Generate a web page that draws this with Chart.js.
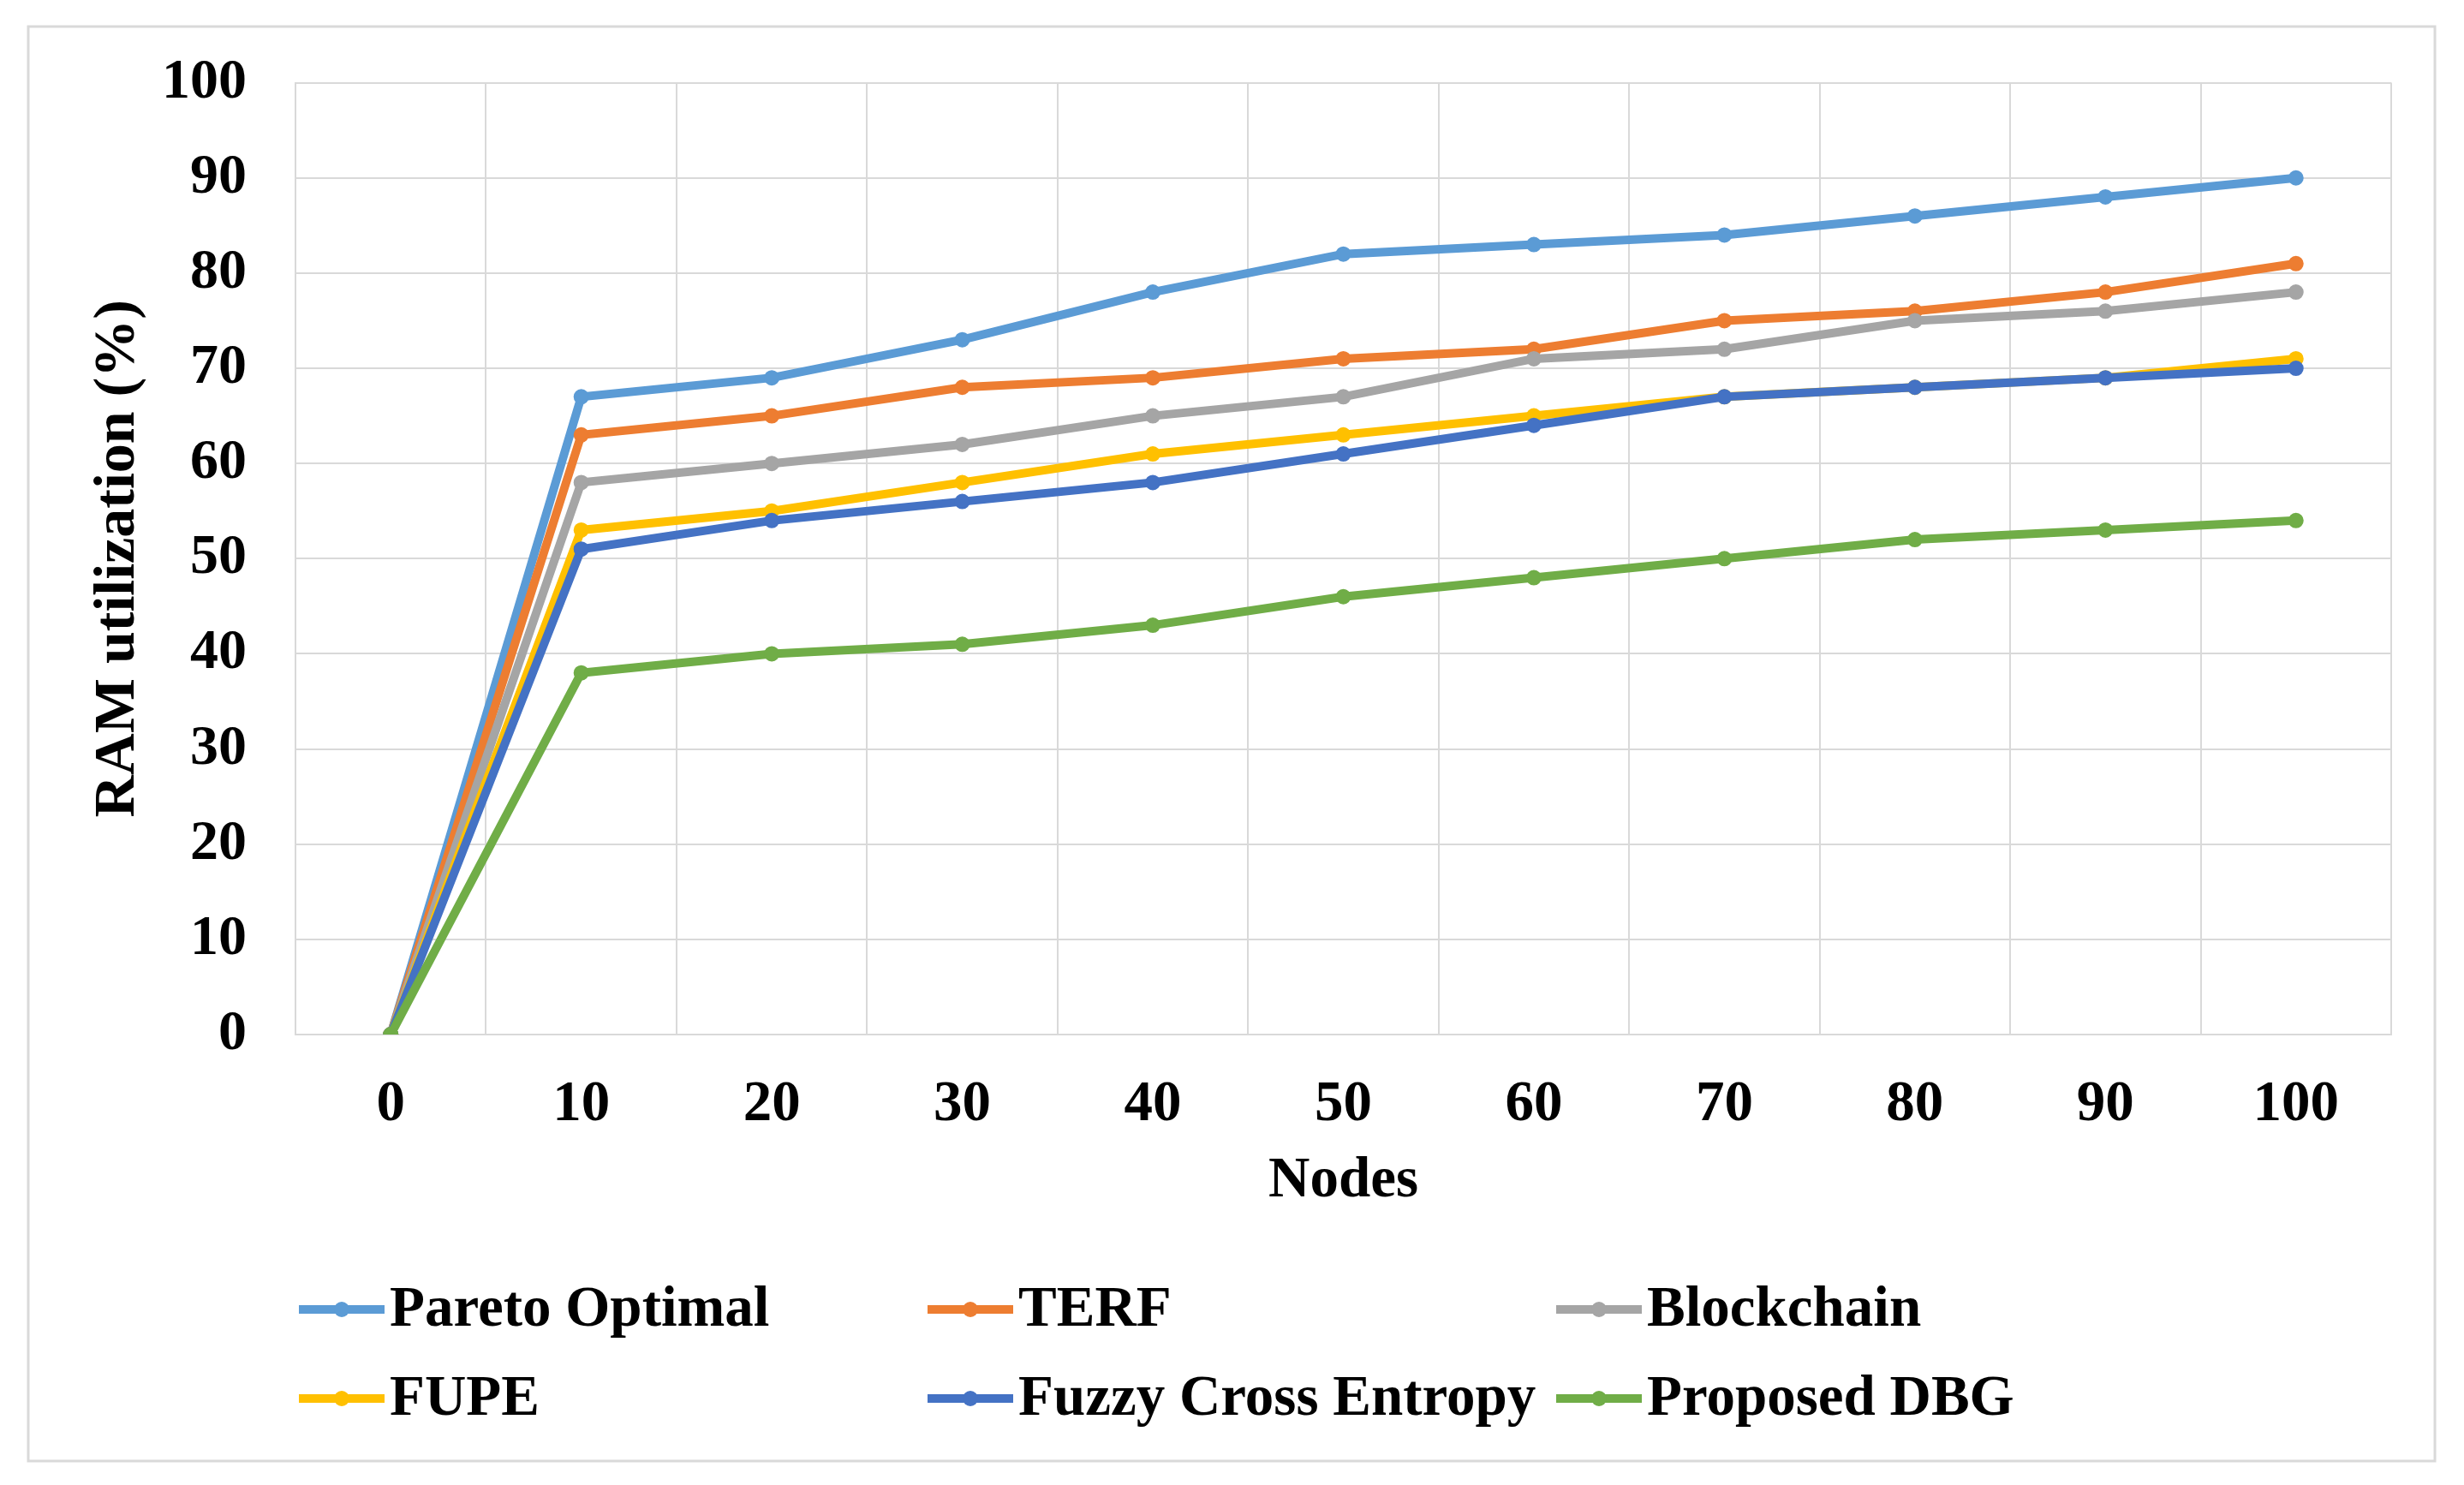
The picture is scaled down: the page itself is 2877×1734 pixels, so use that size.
<!DOCTYPE html>
<html>
<head>
<meta charset="utf-8">
<script src="https://cdn.jsdelivr.net/npm/chart.js@4/dist/chart.umd.min.js"></script>
<style>
html,body{margin:0;padding:0;background:#fff;}
canvas{display:block;}
</style>
</head>
<body>
<canvas id="c" width="2877" height="1734" style="width:2877px;height:1734px"></canvas>
<script>
// ---- data ----
const nodes = ['0', '10', '20', '30', '40', '50', '60', '70', '80', '90', '100'];
const paretoOptimal = [0, 67, 69, 73, 78, 82, 83, 84, 86, 88, 90];
const terf          = [0, 63, 65, 68, 69, 71, 72, 75, 76, 78, 81];
const blockchain    = [0, 58, 60, 62, 65, 67, 71, 72, 75, 76, 78];
const fupe          = [0, 53, 55, 58, 61, 63, 65, 67, 68, 69, 71];
const fuzzyCrossEntropy = [0, 51, 54, 56, 58, 61, 64, 67, 68, 69, 70];
const proposedDBG   = [0, 38, 40, 41, 43, 46, 48, 50, 52, 53, 54];
const seriesNames = ['Pareto Optimal', 'TERF', 'Blockchain', 'FUPE', 'Fuzzy Cross Entropy', 'Proposed DBG'];
const yMin = 0, yMax = 100, yStep = 10;
const xTitle = 'Nodes';
const yTitle = 'RAM utilization (%)';

// ---- styles ----
const seriesColors = ['#5B9BD5', '#ED7D31', '#A5A5A5', '#FFC000', '#4472C4', '#70AD47'];
const seriesValues = [paretoOptimal, terf, blockchain, fupe, fuzzyCrossEntropy, proposedDBG];
const FONT = '"Liberation Serif", "Times New Roman", serif';
const GRID = '#D9D9D9';

const bgPlugin = {
  id: 'bgPlugin',
  beforeDraw(chart) {
    const ctx = chart.ctx;
    ctx.save();
    ctx.fillStyle = '#ffffff';
    ctx.fillRect(0, 0, chart.width, chart.height);
    ctx.strokeStyle = '#D9D9D9';
    ctx.lineWidth = 3;
    ctx.strokeRect(33, 31, 2810, 1675);
    ctx.restore();
  }
};

const gridLegend = {
  id: 'gridLegend',
  afterDraw(chart) {
    const ctx = chart.ctx;
    const cols = [349, 1083, 1817];
    const rows = [1529, 1633];
    chart.data.datasets.forEach((ds, i) => {
      const x = cols[i % 3], y = rows[Math.floor(i / 3)];
      ctx.save();
      ctx.strokeStyle = ds.borderColor;
      ctx.lineWidth = 10;
      ctx.lineCap = 'butt';
      ctx.beginPath(); ctx.moveTo(x, y); ctx.lineTo(x + 100, y); ctx.stroke();
      ctx.fillStyle = ds.borderColor;
      ctx.beginPath(); ctx.arc(x + 50, y, 9, 0, Math.PI * 2); ctx.fill();
      ctx.fillStyle = '#000';
      ctx.font = 'bold 67px ' + FONT;
      ctx.textBaseline = 'middle';
      ctx.textAlign = 'left';
      ctx.fillText(ds.label, x + 106, y + 2);
      ctx.restore();
    });
  }
};

const datasets = seriesNames.map((name, i) => ({
  label: name,
  data: seriesValues[i],
  order: seriesNames.length - i,
  borderColor: seriesColors[i],
  backgroundColor: seriesColors[i],
  pointBackgroundColor: seriesColors[i],
  pointBorderColor: seriesColors[i],
  borderWidth: 10,
  pointRadius: 8,
  pointBorderWidth: 2,
  tension: 0,
  fill: false
}));

new Chart(document.getElementById('c'), {
  type: 'line',
  data: { labels: nodes, datasets: datasets },
  options: {
    responsive: false,
    devicePixelRatio: 1,
    animation: false,
    layout: { padding: { left: 40, top: 92, right: 85, bottom: 314 } },
    plugins: { legend: { display: false }, tooltip: { enabled: false } },
    scales: {
      x: {
        type: 'category',
        offset: true,
        grid: { offset: true, color: GRID, lineWidth: 2, drawTicks: false },
        border: { color: GRID, width: 2 },
        ticks: { color: '#000', padding: 42, font: { family: FONT, size: 67, weight: 'bold' }, maxRotation: 0 },
        title: { display: true, text: xTitle, color: '#000', padding: { top: 0, bottom: 0 }, font: { family: FONT, size: 67, weight: 'bold' } },
        afterFit(scale) { scale.height = 212; }
      },
      y: {
        min: yMin, max: yMax,
        grid: { color: GRID, lineWidth: 2, drawTicks: false },
        border: { color: GRID, width: 2 },
        ticks: { stepSize: yStep, color: '#000', padding: 57, font: { family: FONT, size: 66, weight: 'bold' } },
        title: { display: true, text: yTitle, color: '#000', padding: { top: 58, bottom: 0 }, font: { family: FONT, size: 68, weight: 'bold' } },
        afterFit(scale) { scale.width = 305; }
      }
    }
  },
  plugins: [bgPlugin, gridLegend]
});
</script>
</body>
</html>
